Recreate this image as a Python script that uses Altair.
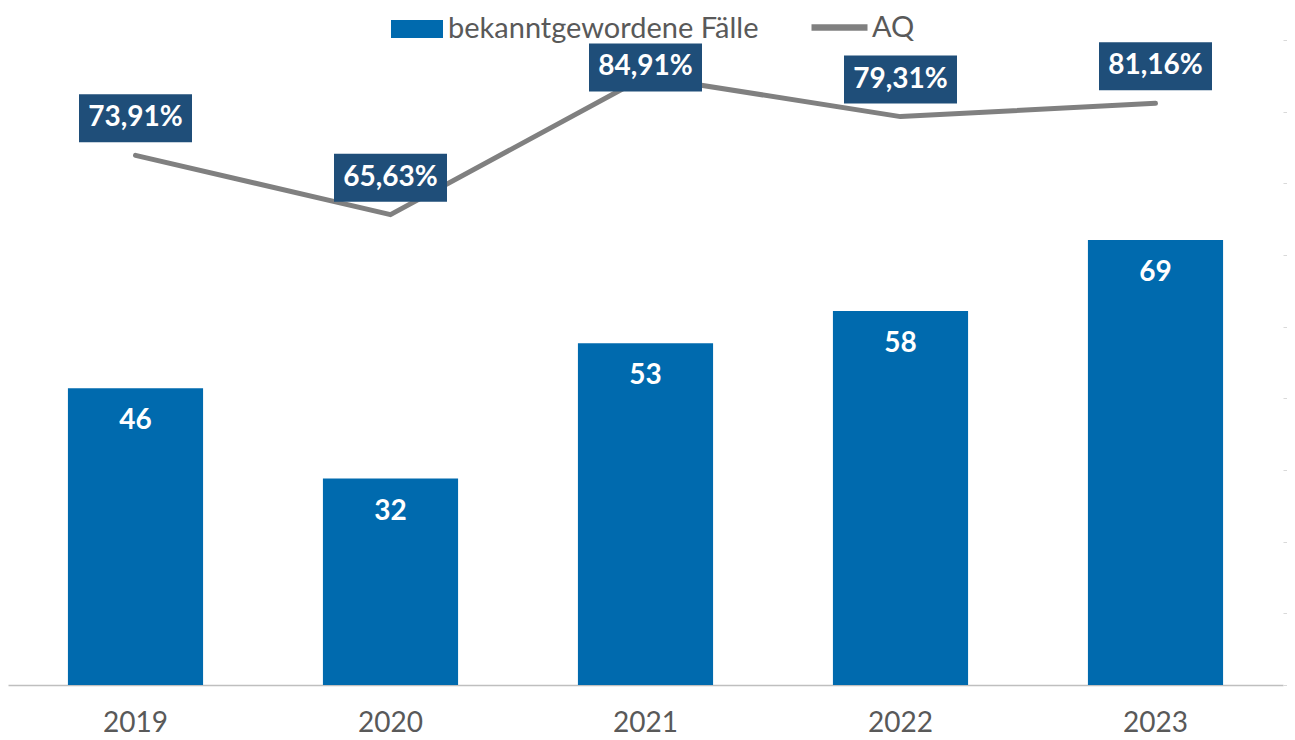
import altair as alt
import pandas as pd

years = ["2019", "2020", "2021", "2022", "2023"]
cases = [46, 32, 53, 58, 69]
aq = [73.91, 65.63, 84.91, 79.31, 81.16]
# label box shift above the line point, in pixels (Excel moved the 2021 label)
label_shift_px = [37, 37, 9, 37, 37]

BAR = "#006AAE"
LINE = "#808080"
BOX = "#1F4E79"
TXT = "#595959"
FONT = "Lato"

W, H = 1275, 645
AQ_MAX = 90
px2u = AQ_MAX / H

df = pd.DataFrame({
    "year": years,
    "cases": cases,
    "aq": aq,
    "shift": label_shift_px,
})
df["aq_label"] = [f"{v:.2f}".replace(".", ",") + "%" for v in aq]
df["lab"] = df["aq"] + df["shift"] * px2u
df["lab_lo"] = df["lab"] - 24 * px2u
df["lab_hi"] = df["lab"] + 24 * px2u
df["s_bar"] = "bekanntgewordene Fälle"
df["s_line"] = "AQ"

base = alt.Chart(df)

x = alt.X(
    "year:N",
    sort=years,
    scale=alt.Scale(paddingInner=0.47, paddingOuter=0.235),
    axis=alt.Axis(
        title=None, labelAngle=0, ticks=False, labelFont=FONT, labelFontSize=28,
        labelColor=TXT, labelPadding=24, domainColor="#bfbfbf", domainWidth=1.5,
    ),
)

ybar = alt.Y("cases:Q", scale=alt.Scale(domain=[0, 100]), axis=None)

bars = base.mark_bar().encode(
    x=x,
    y=ybar,
    fill=alt.Fill(
        "s_bar:N",
        scale=alt.Scale(domain=["bekanntgewordene Fälle"], range=[BAR]),
        legend=alt.Legend(
            title=None, orient="none", legendX=383, legendY=-37, direction="horizontal",
            symbolType="M-1,-0.346H1V0.346H-1Z", symbolSize=2704, symbolStrokeWidth=0,
            labelFont=FONT, labelFontSize=29, labelColor=TXT, labelOffset=5, padding=0,
            labelLimit=1000,
        ),
    ),
)
bar_text = base.mark_text(
    dy=33, baseline="middle", font=FONT, fontSize=28, fontWeight="bold", color="white"
).encode(x=x, y=ybar, text="cases:Q")

left = alt.layer(bars, bar_text)

yaq = alt.Y(
    "aq:Q",
    scale=alt.Scale(domain=[0, AQ_MAX]),
    axis=alt.Axis(
        orient="right", title=None, labels=False, domain=False, grid=False,
        values=list(range(0, 91, 10)), tickColor="#d9d9d9", tickSize=4, tickWidth=1,
    ),
)

line = base.mark_line(strokeWidth=5, strokeCap="round", strokeJoin="round").encode(
    x=x,
    y=yaq,
    stroke=alt.Stroke(
        "s_line:N",
        scale=alt.Scale(domain=["AQ"], range=[LINE]),
        legend=alt.Legend(
            title=None, orient="none", legendX=800, legendY=-44, direction="horizontal",
            symbolType="stroke", symbolSize=3136, symbolStrokeWidth=6.5,
            labelFont=FONT, labelFontSize=29, labelColor=TXT, labelOffset=1, padding=0,
            labelLimit=1000,
        ),
    ),
)
boxes = base.mark_bar(width=113, color=BOX).encode(
    x=x, y=alt.Y("lab_lo:Q"), y2="lab_hi:Q"
)
box_text = base.mark_text(
    baseline="middle", font=FONT, fontSize=28, fontWeight="bold", color="white"
).encode(x=x, y=alt.Y("lab:Q"), text="aq_label:N")

right = alt.layer(line, boxes, box_text)

chart = (
    alt.layer(left, right)
    .resolve_scale(y="independent", fill="independent", stroke="independent")
    .properties(
        width=W,
        height=H,
        background="white",
        autosize=alt.AutoSizeParams(type="none"),
        padding={"left": 0, "top": 32, "right": 4, "bottom": 52},
    )
    .configure_view(stroke="transparent", strokeWidth=0)
)

chart.save("out.html", embed_options={"renderer": "svg", "actions": False})
